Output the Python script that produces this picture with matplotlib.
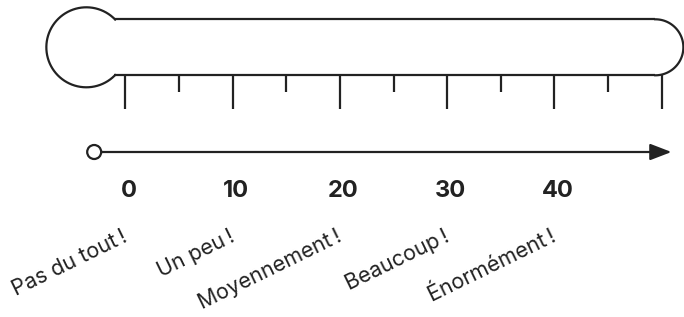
import matplotlib
matplotlib.use("Agg")
import matplotlib.pyplot as plt
import numpy as np
from matplotlib.patches import FancyArrowPatch, Ellipse

# scale of the "thermometer"
major_values = [0, 10, 20, 30, 40, 50]
minor_values = [5, 15, 25, 35, 45]
number_labels = [0, 10, 20, 30, 40]
answer_labels = ["Pas du tout\u202f!", "Un peu\u202f!", "Moyennement\u202f!",
                 "Beaucoup\u202f!", "Énormément\u202f!"]

plt.rcParams['font.family'] = ['Inter', 'DejaVu Sans']
ink = '#222222'
lw = 1.6

fig = plt.figure(figsize=(6.84, 3.17), dpi=100)
ax = fig.add_axes([0, 0, 1, 1])
px = 10.73                      # pixels per scale unit
x0 = 125.3                      # pixel position of value 0
ax.set_xlim(-x0 / px, (684 - x0) / px)
ax.set_ylim(317, 0)             # y in pixels, top down
ax.axis('off')

# bulb (open circle on the left), drawn in pixel-like units
t = np.radians(np.linspace(44, 316, 200))
ax.plot(-3.63 + 40 * np.cos(t) / px, 47.3 - 40 * np.sin(t), color=ink, lw=lw)
# tube
tube_start, tube_end = -1.02, 49.4
ax.plot([tube_start, tube_end], [19.3, 19.3], color=ink, lw=lw, solid_capstyle='butt')
ax.plot([tube_start, tube_end], [75.3, 75.3], color=ink, lw=lw, solid_capstyle='butt')
t = np.radians(np.linspace(-90, 90, 100))
ax.plot(tube_end + 28 * np.cos(t) / px, 47.3 - 28 * np.sin(t), color=ink, lw=lw)

# graduations
ax.vlines(major_values, 75.3, 108.5, color=ink, lw=lw)
ax.vlines(minor_values, 75.3, 91.5, color=ink, lw=lw)

# arrow with open circle start
ax.add_patch(FancyArrowPatch((-2.45, 152), (50.9, 152),
                             arrowstyle='-|>,head_length=6.5,head_width=2.5',
                             mutation_scale=2, color=ink, lw=lw, shrinkA=0, shrinkB=0))
ax.add_patch(Ellipse((-2.9, 152), 14 / px, 14, facecolor='white', edgecolor=ink,
                     lw=lw, zorder=3))

# numbers
for v in number_labels:
    ax.text(v + 0.33, 191, str(v), ha='center', va='center', fontsize=17,
            fontweight='bold', color=ink)

# answers, rotated
for v, lab in zip(number_labels, answer_labels):
    ax.text(v + 0.3, 241, lab, ha='right', va='baseline', rotation=26,
            rotation_mode='anchor', fontsize=15.5, color=ink)

fig.savefig('out.png', dpi=100, facecolor='white')
